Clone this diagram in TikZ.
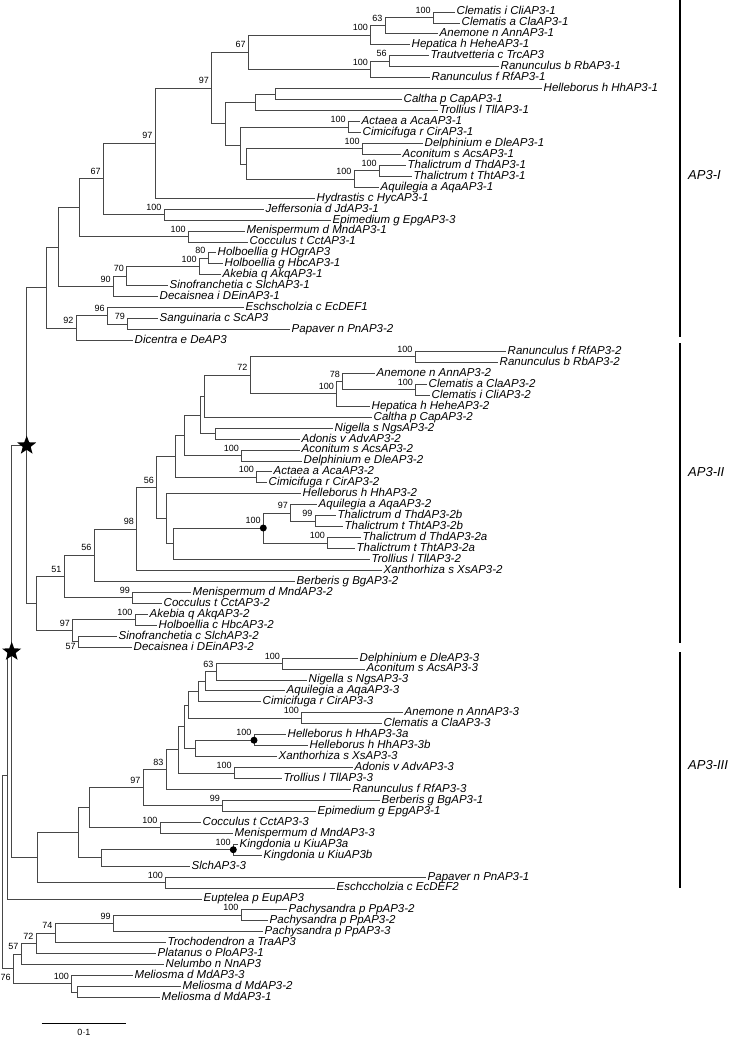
\documentclass[tikz,border=0pt]{standalone}
\usepackage{fontspec}
\setmainfont{Liberation Sans}
\usetikzlibrary{shapes.geometric}

\newcommand{\leaf}[4]{\node[taxon] (#1) at (#2,#3) {#4};}
\newcommand{\boot}[2]{\node[bs] (b-#1) at (#1) {#2};}
\newcommand{\bootlow}[2]{\node[bslow] (b-#1) at (#1) {#2};}

\begin{document}
\begin{tikzpicture}[x=1pt,y=-1pt,
  br/.style={draw=black!72,line width=0.9pt},
  taxon/.style={anchor=west,inner sep=1.5pt,text height=8.3pt,text depth=2.4pt,font=\fontsize{11.5}{12}\selectfont\itshape},
  bs/.style={anchor=base east,xshift=-2.5pt,yshift=4.5pt,inner sep=0pt,font=\fontsize{9}{9}\selectfont},
  bslow/.style={anchor=north east,xshift=-2.5pt,yshift=-1.5pt,inner sep=0pt,font=\fontsize{9}{9}\selectfont},
  dup/.style={star,star points=5,star point ratio=2.4,fill=black,minimum size=20pt,inner sep=0pt},
  dupdot/.style={circle,fill=black,minimum size=7pt,inner sep=0pt},
  clade/.style={line width=1.6pt},
  cladelab/.style={anchor=west,inner sep=0pt,font=\fontsize{13}{13}\selectfont\itshape}]
\useasboundingbox (0,0) rectangle (730,1039);

%%% AP3-I
\leaf{cli1}{455}{12}{Clematis i CliAP3-1}
\leaf{cla1}{460}{22.95}{Clematis a ClaAP3-1}
\leaf{ann1}{438}{33.9}{Anemone n AnnAP3-1}
\leaf{hehe1}{410}{44.85}{Hepatica h HeheAP3-1}
\leaf{trc}{429}{55.8}{Trautvetteria c TrcAP3}
\leaf{rb1}{499}{66.75}{Ranunculus b RbAP3-1}
\leaf{rf1t}{430}{77.7}{Ranunculus f RfAP3-1}
\leaf{hh1}{542}{88.65}{Helleborus h HhAP3-1}
\leaf{cap1}{402}{99.6}{Caltha p CapAP3-1}
\leaf{tll1}{438}{110.55}{Trollius l TllAP3-1}
\leaf{aca1}{360}{121.5}{Actaea a AcaAP3-1}
\leaf{cir1}{361}{132.45}{Cimicifuga r CirAP3-1}
\leaf{dle1}{423}{143.4}{Delphinium e DleAP3-1}
\leaf{acs1}{401}{154.35}{Aconitum s AcsAP3-1}
\leaf{thd1}{406}{165.3}{Thalictrum d ThdAP3-1}
\leaf{tht1}{412}{176.25}{Thalictrum t ThtAP3-1}
\leaf{aqa1}{379}{187.2}{Aquilegia a AqaAP3-1}
\leaf{hyc1}{315}{198.15}{Hydrastis c HycAP3-1}
\leaf{jd1}{264}{209.1}{Jeffersonia d JdAP3-1}
\leaf{epg3}{331}{220.05}{Epimedium g EpgAP3-3}
\leaf{mnd1}{245}{231}{Menispermum d MndAP3-1}
\leaf{cct1}{248}{241.95}{Cocculus t CctAP3-1}
\leaf{hogr}{216}{252.9}{Holboellia g HOgrAP3}
\leaf{hbc1}{223}{263.85}{Holboellia g HbcAP3-1}
\leaf{akq1}{221}{274.8}{Akebia q AkqAP3-1}
\leaf{slch1}{168}{285.75}{Sinofranchetia c SlchAP3-1}
\leaf{dein1}{158}{296.7}{Decaisnea i DEinAP3-1}
\leaf{ecdef1}{244}{307.65}{Eschscholzia c EcDEF1}
\leaf{sc}{158}{318.6}{Sanguinaria c ScAP3}
\leaf{pn2}{290}{329.55}{Papaver n PnAP3-2}
\leaf{de}{133}{340.5}{Dicentra e DeAP3}

\coordinate (cl1) at (433.3,17.5);
\coordinate (an1) at (385,25.7);
\coordinate (he1) at (370.7,35.3);
\coordinate (rb1n) at (389.3,61.3);
\coordinate (rf1n) at (370.7,69.5);
\coordinate (j1) at (248.3,52.4);
\coordinate (hc1) at (275,94.1);
\coordinate (tl1n) at (255.7,102.3);
\coordinate (ac1) at (348.3,127);
\coordinate (da1) at (362.3,148.9);
\coordinate (th1) at (379.3,170.8);
\coordinate (aq1) at (354,179);
\coordinate (dt1) at (246.7,164);
\coordinate (cd1) at (240.7,145.5);
\coordinate (k1) at (225.7,123.9);
\coordinate (i1) at (211.7,88.2);
\coordinate (h1) at (155,143.2);
\coordinate (je1) at (164,214.6);
\coordinate (g1) at (103.3,178.9);
\coordinate (mc1) at (188.3,236.5);
\coordinate (f1) at (79,207.7);
\coordinate (hb1) at (208,258.4);
\coordinate (ak1) at (199.3,266.6);
\coordinate (sl1) at (126.7,276.2);
\coordinate (de1) at (113.3,286.5);
\coordinate (e1) at (58.3,247.1);
\coordinate (sp1) at (127.7,324.1);
\coordinate (es1) at (107.3,315.9);
\coordinate (pa1) at (76,328.2);
\coordinate (d1) at (46.7,287.7);

\draw[br] (cl1) |- (cli1) (cl1) |- (cla1);
\draw[br] (an1) |- (cl1) (an1) |- (ann1);
\draw[br] (he1) |- (an1) (he1) |- (hehe1);
\draw[br] (rb1n) |- (trc) (rb1n) |- (rb1);
\draw[br] (rf1n) |- (rb1n) (rf1n) |- (rf1t);
\draw[br] (j1) |- (he1) (j1) |- (rf1n);
\draw[br] (hc1) |- (hh1) (hc1) |- (cap1);
\draw[br] (tl1n) |- (hc1) (tl1n) |- (tll1);
\draw[br] (ac1) |- (aca1) (ac1) |- (cir1);
\draw[br] (da1) |- (dle1) (da1) |- (acs1);
\draw[br] (th1) |- (thd1) (th1) |- (tht1);
\draw[br] (aq1) |- (th1) (aq1) |- (aqa1);
\draw[br] (dt1) |- (da1) (dt1) |- (aq1);
\draw[br] (cd1) |- (ac1) (cd1) |- (dt1);
\draw[br] (k1) |- (tl1n) (k1) |- (cd1);
\draw[br] (i1) |- (j1) (i1) |- (k1);
\draw[br] (h1) |- (i1) (h1) |- (hyc1);
\draw[br] (je1) |- (jd1) (je1) |- (epg3);
\draw[br] (g1) |- (h1) (g1) |- (je1);
\draw[br] (mc1) |- (mnd1) (mc1) |- (cct1);
\draw[br] (f1) |- (g1) (f1) |- (mc1);
\draw[br] (hb1) |- (hogr) (hb1) |- (hbc1);
\draw[br] (ak1) |- (hb1) (ak1) |- (akq1);
\draw[br] (sl1) |- (ak1) (sl1) |- (slch1);
\draw[br] (de1) |- (sl1) (de1) |- (dein1);
\draw[br] (e1) |- (f1) (e1) |- (de1);
\draw[br] (sp1) |- (sc) (sp1) |- (pn2);
\draw[br] (es1) |- (ecdef1) (es1) |- (sp1);
\draw[br] (pa1) |- (es1) (pa1) |- (de);
\draw[br] (d1) |- (e1) (d1) |- (pa1);

\boot{cl1}{100} \boot{an1}{63} \boot{he1}{100} \boot{rb1n}{56} \boot{rf1n}{100}
\boot{j1}{67} \boot{ac1}{100} \boot{da1}{100} \boot{th1}{100} \boot{aq1}{100}
\boot{i1}{97} \boot{h1}{97} \boot{je1}{100} \boot{g1}{67} \boot{mc1}{100}
\boot{hb1}{80} \boot{ak1}{100} \boot{sl1}{70} \boot{de1}{90} \boot{sp1}{79}
\boot{es1}{96} \boot{pa1}{92}

%%% AP3-II
\leaf{rf2}{506}{351.45}{Ranunculus f RfAP3-2}
\leaf{rb2}{498}{362.4}{Ranunculus b RbAP3-2}
\leaf{ann2}{375}{373.35}{Anemone n AnnAP3-2}
\leaf{cla2}{427}{384.3}{Clematis a ClaAP3-2}
\leaf{cli2}{430}{395.25}{Clematis i CliAP3-2}
\leaf{hehe2}{370}{406.2}{Hepatica h HeheAP3-2}
\leaf{cap2}{372}{417.15}{Caltha p CapAP3-2}
\leaf{ngs2}{333}{428.1}{Nigella s NgsAP3-2}
\leaf{adv2}{300}{439.05}{Adonis v AdvAP3-2}
\leaf{acs2}{300}{450}{Aconitum s AcsAP3-2}
\leaf{dle2}{302}{460.95}{Delphinium e DleAP3-2}
\leaf{aca2}{272}{471.9}{Actaea a AcaAP3-2}
\leaf{cir2}{267}{482.85}{Cimicifuga r CirAP3-2}
\leaf{hh2t}{301}{493.8}{Helleborus h HhAP3-2}
\leaf{aqa2}{317}{504.75}{Aquilegia a AqaAP3-2}
\leaf{thd2b}{336}{515.7}{Thalictrum d ThdAP3-2b}
\leaf{tht2b}{343}{526.65}{Thalictrum t ThtAP3-2b}
\leaf{thd2a}{361}{537.6}{Thalictrum d ThdAP3-2a}
\leaf{tht2a}{355}{548.55}{Thalictrum t ThtAP3-2a}
\leaf{tll2}{370}{559.5}{Trollius l TllAP3-2}
\leaf{xs2}{382}{570.45}{Xanthorhiza s XsAP3-2}
\leaf{bg2}{295}{581.4}{Berberis g BgAP3-2}
\leaf{mnd2}{191}{592.35}{Menispermum d MndAP3-2}
\leaf{cct2}{162}{603.3}{Cocculus t CctAP3-2}
\leaf{akq2}{148}{614.25}{Akebia q AkqAP3-2}
\leaf{hbc2}{157}{625.2}{Holboellia c HbcAP3-2}
\leaf{slch2}{117}{636.15}{Sinofranchetia c SlchAP3-2}
\leaf{dein2}{132}{647.1}{Decaisnea i DEinAP3-2}

\coordinate (rr2) at (415,356.9);
\coordinate (cc2) at (415.7,389.8);
\coordinate (an2) at (342.7,381.6);
\coordinate (he2) at (336.7,393.9);
\coordinate (ra2) at (250,375.4);
\coordinate (ca2) at (204,396.3);
\coordinate (na2) at (215,433.6);
\coordinate (q2) at (200,415);
\coordinate (ad2) at (241.7,455.5);
\coordinate (r2) at (184.3,435.2);
\coordinate (ac2) at (256.7,477.4);
\coordinate (s2) at (175,456.3);
\coordinate (tb2) at (315,521.2);
\coordinate (aq2) at (290.7,513);
\coordinate (ta2) at (327.7,543.1);
\coordinate (th2) at (263.3,528);
\coordinate (tl2) at (173.3,543.8);
\coordinate (hh2) at (166,518.8);
\coordinate (t2) at (156.7,487.6);
\coordinate (xa2) at (136.7,529);
\coordinate (be2) at (94,555.2);
\coordinate (mc2) at (132.7,597.8);
\coordinate (n51) at (64,576.5);
\coordinate (ah2) at (135,619.7);
\coordinate (sd2) at (78.3,641.6);
\coordinate (lb2) at (72.7,630.7);
\coordinate (r2root) at (36,603.6);
\coordinate (nC) at (26.7,445.6);

\draw[br] (rr2) |- (rf2) (rr2) |- (rb2);
\draw[br] (cc2) |- (cla2) (cc2) |- (cli2);
\draw[br] (an2) |- (ann2) (an2) |- (cc2);
\draw[br] (he2) |- (an2) (he2) |- (hehe2);
\draw[br] (ra2) |- (rr2) (ra2) |- (he2);
\draw[br] (ca2) |- (ra2) (ca2) |- (cap2);
\draw[br] (na2) |- (ngs2) (na2) |- (adv2);
\draw[br] (q2) |- (ca2) (q2) |- (na2);
\draw[br] (ad2) |- (acs2) (ad2) |- (dle2);
\draw[br] (r2) |- (q2) (r2) |- (ad2);
\draw[br] (ac2) |- (aca2) (ac2) |- (cir2);
\draw[br] (s2) |- (r2) (s2) |- (ac2);
\draw[br] (tb2) |- (thd2b) (tb2) |- (tht2b);
\draw[br] (aq2) |- (aqa2) (aq2) |- (tb2);
\draw[br] (ta2) |- (thd2a) (ta2) |- (tht2a);
\draw[br] (th2) |- (aq2) (th2) |- (ta2);
\draw[br] (tl2) |- (th2) (tl2) |- (tll2);
\draw[br] (hh2) |- (hh2t) (hh2) |- (tl2);
\draw[br] (t2) |- (s2) (t2) |- (hh2);
\draw[br] (xa2) |- (t2) (xa2) |- (xs2);
\draw[br] (be2) |- (xa2) (be2) |- (bg2);
\draw[br] (mc2) |- (mnd2) (mc2) |- (cct2);
\draw[br] (n51) |- (be2) (n51) |- (mc2);
\draw[br] (ah2) |- (akq2) (ah2) |- (hbc2);
\draw[br] (sd2) |- (slch2) (sd2) |- (dein2);
\draw[br] (lb2) |- (ah2) (lb2) |- (sd2);
\draw[br] (r2root) |- (n51) (r2root) |- (lb2);
\draw[br] (nC) |- (d1) (nC) |- (r2root);

\boot{rr2}{100} \boot{cc2}{100} \boot{an2}{78} \boot{he2}{100} \boot{ra2}{72}
\boot{ad2}{100} \boot{ac2}{100} \boot{tb2}{99} \boot{aq2}{97} \boot{ta2}{100}
\boot{th2}{100} \boot{t2}{56} \boot{xa2}{98} \boot{be2}{56} \boot{mc2}{99}
\boot{n51}{51} \boot{ah2}{100} \boot{lb2}{97} \bootlow{sd2}{57}
\node[dupdot] (dotA) at (th2) {};

%%% AP3-III
\leaf{dle3}{358}{658.05}{Delphinium e DleAP3-3}
\leaf{acs3}{365}{669}{Aconitum s AcsAP3-3}
\leaf{ngs3}{307}{679.95}{Nigella s NgsAP3-3}
\leaf{aqa3}{285}{690.9}{Aquilegia a AqaAP3-3}
\leaf{cir3}{261}{701.85}{Cimicifuga r CirAP3-3}
\leaf{ann3}{403}{712.8}{Anemone n AnnAP3-3}
\leaf{cla3}{382}{723.75}{Clematis a ClaAP3-3}
\leaf{hh3a}{286}{734.7}{Helleborus h HhAP3-3a}
\leaf{hh3b}{308}{745.65}{Helleborus h HhAP3-3b}
\leaf{xs3}{277}{756.6}{Xanthorhiza s XsAP3-3}
\leaf{adv3}{353}{767.55}{Adonis v AdvAP3-3}
\leaf{tll3}{282}{778.5}{Trollius l TllAP3-3}
\leaf{rf3}{351}{789.45}{Ranunculus f RfAP3-3}
\leaf{bg1}{380}{800.4}{Berberis g BgAP3-1}
\leaf{epg1}{316}{811.35}{Epimedium g EpgAP3-1}
\leaf{cct3}{201}{822.3}{Cocculus t CctAP3-3}
\leaf{mnd3}{233}{833.25}{Menispermum d MndAP3-3}
\leaf{kiua}{238}{844.2}{Kingdonia u KiuAP3a}
\leaf{kiub}{262}{855.15}{Kingdonia u KiuAP3b}
\leaf{slch3}{190}{866.1}{SlchAP3-3}
\leaf{pn1}{426}{877.05}{Papaver n PnAP3-1}
\leaf{ecdef2}{335}{888}{Eschccholzia c EcDEF2}

\coordinate (da3) at (282.7,663.5);
\coordinate (n63) at (216,671.7);
\coordinate (aq3) at (205,681.3);
\coordinate (ci3) at (198.3,691.6);
\coordinate (ac3) at (301.7,718.3);
\coordinate (an3) at (188.3,705);
\coordinate (hh3) at (254,740.2);
\coordinate (hx3) at (195,748.4);
\coordinate (n3d) at (184.3,726.7);
\coordinate (at3) at (234.3,773);
\coordinate (n3e) at (178.3,749.9);
\coordinate (n83) at (166,769.7);
\coordinate (be3) at (222.7,805.9);
\coordinate (n97) at (143,787.8);
\coordinate (cm3) at (160,827.8);
\coordinate (n3f) at (89.3,807.8);
\coordinate (ki3) at (233.3,849.7);
\coordinate (ks3) at (101.7,857.9);
\coordinate (n3g) at (78.3,832.9);
\coordinate (pe3) at (165.7,882.5);
\coordinate (r3root) at (37.7,857.7);
\coordinate (nB) at (11.7,651.7);
\coordinate (nA) at (7.3,775.3);

\draw[br] (da3) |- (dle3) (da3) |- (acs3);
\draw[br] (n63) |- (da3) (n63) |- (ngs3);
\draw[br] (aq3) |- (n63) (aq3) |- (aqa3);
\draw[br] (ci3) |- (aq3) (ci3) |- (cir3);
\draw[br] (ac3) |- (ann3) (ac3) |- (cla3);
\draw[br] (an3) |- (ci3) (an3) |- (ac3);
\draw[br] (hh3) |- (hh3a) (hh3) |- (hh3b);
\draw[br] (hx3) |- (hh3) (hx3) |- (xs3);
\draw[br] (n3d) |- (an3) (n3d) |- (hx3);
\draw[br] (at3) |- (adv3) (at3) |- (tll3);
\draw[br] (n3e) |- (n3d) (n3e) |- (at3);
\draw[br] (n83) |- (n3e) (n83) |- (rf3);
\draw[br] (be3) |- (bg1) (be3) |- (epg1);
\draw[br] (n97) |- (n83) (n97) |- (be3);
\draw[br] (cm3) |- (cct3) (cm3) |- (mnd3);
\draw[br] (n3f) |- (n97) (n3f) |- (cm3);
\draw[br] (ki3) |- (kiua) (ki3) |- (kiub);
\draw[br] (ks3) |- (ki3) (ks3) |- (slch3);
\draw[br] (n3g) |- (n3f) (n3g) |- (ks3);
\draw[br] (pe3) |- (pn1) (pe3) |- (ecdef2);
\draw[br] (r3root) |- (n3g) (r3root) |- (pe3);
\draw[br] (nB) |- (nC) (nB) |- (r3root);

\boot{da3}{100} \boot{n63}{63} \boot{ac3}{100} \boot{hh3}{100} \boot{at3}{100}
\boot{n83}{83} \boot{be3}{99} \boot{n97}{97} \boot{cm3}{100} \boot{ki3}{100}
\boot{pe3}{100}
\node[dupdot] (dotB) at (hh3) {};
\node[dupdot] (dotC) at (ki3) {};

%%% outgroups
\leaf{eup}{202}{898.95}{Euptelea p EupAP3}
\leaf{ppa}{287}{909.9}{Pachysandra p PpAP3-2}
\leaf{ppb}{268}{920.85}{Pachysandra p PpAP3-2}
\leaf{ppc}{263}{931.8}{Pachysandra p PpAP3-3}
\leaf{tra}{166}{942.75}{Trochodendron a TraAP3}
\leaf{plo}{156}{953.7}{Platanus o PloAP3-1}
\leaf{nn}{164}{964.65}{Nelumbo n NnAP3}
\leaf{md3}{133}{975.6}{Meliosma d MdAP3-3}
\leaf{md2}{181}{986.55}{Meliosma d MdAP3-2}
\leaf{md1}{160}{997.5}{Meliosma d MdAP3-1}

\coordinate (pp) at (241,915.4);
\coordinate (p99) at (113.3,923.6);
\coordinate (p74) at (55,933.2);
\coordinate (p72) at (36,943.5);
\coordinate (p57) at (21,954.1);
\coordinate (md21) at (77.7,992);
\coordinate (md) at (71.7,983.8);
\coordinate (p76) at (13.3,968.9);
\coordinate (root) at (2.7,872.1);

\draw[br] (nA) |- (nB) (nA) |- (eup);
\draw[br] (pp) |- (ppa) (pp) |- (ppb);
\draw[br] (p99) |- (pp) (p99) |- (ppc);
\draw[br] (p74) |- (p99) (p74) |- (tra);
\draw[br] (p72) |- (p74) (p72) |- (plo);
\draw[br] (p57) |- (p72) (p57) |- (nn);
\draw[br] (md21) |- (md2) (md21) |- (md1);
\draw[br] (md) |- (md3) (md) |- (md21);
\draw[br] (p76) |- (p57) (p76) |- (md);
\draw[br] (root) |- (nA) (root) |- (p76);

\boot{pp}{100} \boot{p99}{99} \boot{p74}{74} \boot{p72}{72} \boot{p57}{57}
\boot{md}{100}
\node[bslow,yshift=-4pt] (b-p76) at (p76) {76};

% duplications
\node[dup] (dupC) at (nC) {};
\node[dup] (dupB) at (nB) {};

% clade bars
\coordinate (barIa) at (680,0);
\coordinate (barIb) at (680,337);
\coordinate (barIIa) at (680,343);
\coordinate (barIIb) at (680,643);
\coordinate (barIIIa) at (680,652);
\coordinate (barIIIb) at (680,888);
\draw[clade] (barIa) -- (barIb);
\draw[clade] (barIIa) -- (barIIb);
\draw[clade] (barIIIa) -- (barIIIb);
\node[cladelab] (labI) at (688,175) {AP3-I};
\node[cladelab] (labII) at (688,472) {AP3-II};
\node[cladelab] (labIII) at (688,765) {AP3-III};

% scale
\coordinate (sb0) at (41.7,1023);
\coordinate (sb1) at (125.7,1023);
\draw[line width=0.9pt] (sb0) -- (sb1);
\node[font=\fontsize{9}{9}\selectfont] (sbl) at (84,1032) {0·1};
\end{tikzpicture}
\end{document}
